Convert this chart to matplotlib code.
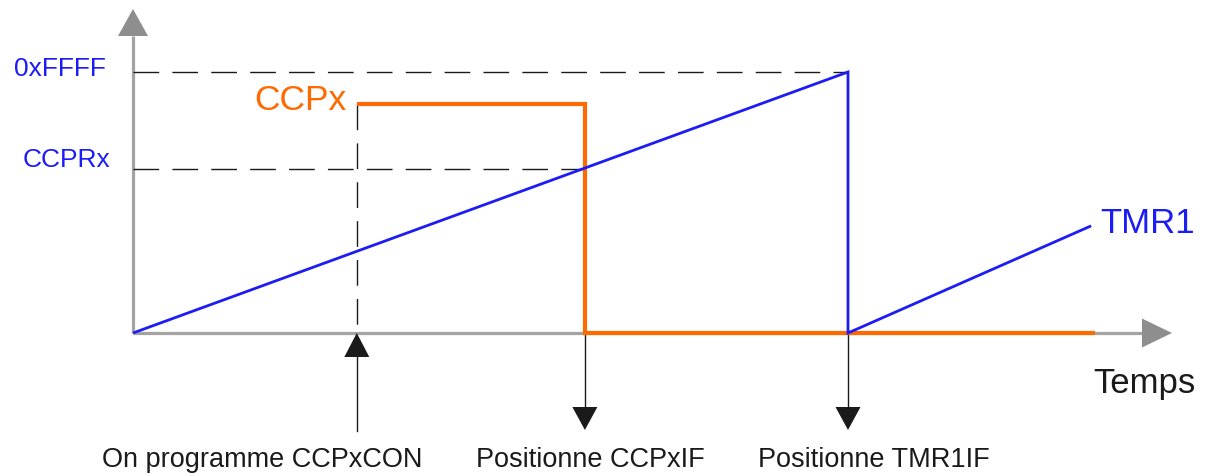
import matplotlib
matplotlib.use("Agg")
import matplotlib.pyplot as plt
from matplotlib.patches import Polygon

# ---------------- data ----------------
TOP = 65535                     # 0xFFFF
CCPRX = 41300                   # compare value
T_CCPXCON = 31.3                # CCPxCON programmed
T_CCPXIF = 63.2                 # match -> CCPxIF
T_TMR1IF = 100.0                # overflow -> TMR1IF
T_END = 134.3
TMR1_t = [0, T_TMR1IF, T_TMR1IF, 134.0]
TMR1_v = [0, TOP, 0, 26900]
CCP_HIGH = 57500
CCPX_t = [T_CCPXCON, T_CCPXIF, T_CCPXIF, 134.5]
CCPX_v = [CCP_HIGH, CCP_HIGH, 0, 0]
Y_LABELS = ["0xFFFF", "CCPRx"]
EVENT_LABELS = ["On programme CCPxCON", "Positionne CCPxIF", "Positionne TMR1IF"]
EVENT_T = [T_CCPXCON, T_CCPXIF, T_TMR1IF]
EVENT_DIR = ["up", "down", "down"]

# ---------------- layout ----------------
W, H, DPI = 1211, 474, 100
OX, OY = 133, 333               # origin in pixels
SX = 7.15                       # px per time unit
SY = 261 / TOP                  # px per value unit
PX_T = 1 / SX                   # time units per px
PX_V = 1 / SY                   # value units per px
X_AXIS_END = (1172 - OX) / SX
Y_AXIS_END = (OY - 9) / SY

BLUE = "#1c1cf5"
ORANGE = "#ff6a00"
GRAY = "#a3a3a3"
GRAYHEAD = "#8e8e8e"
BLACK = "#1a1a1a"
FONT = "Liberation Sans"

fig = plt.figure(figsize=(W / DPI, H / DPI), dpi=DPI)
ax = fig.add_axes([0, 0, 1, 1])
ax.set_xlim(-OX / SX, (W - OX) / SX)
ax.set_ylim(-(H - OY) / SY, OY / SY)
ax.axis("off")

dash = dict(color=BLACK, lw=1.0, dashes=(18.5, 9.5), zorder=2)
# dashed guides
ax.plot([0, T_TMR1IF], [TOP, TOP], **dash)
ax.plot([0, T_CCPXIF], [CCPRX, CCPRX], **dash)
ax.plot([T_CCPXCON, T_CCPXCON], [CCP_HIGH, 0], **dash)

# axes (gray) with arrowheads
ax.plot([0, X_AXIS_END - 30 * PX_T], [0, 0], color=GRAY, lw=2.3, zorder=1,
        solid_capstyle="butt")
ax.plot([0, 0], [0, Y_AXIS_END - 27 * PX_V], color=GRAY, lw=2.3, zorder=1,
        solid_capstyle="butt")
ax.add_patch(Polygon([[X_AXIS_END, 0],
                      [X_AXIS_END - 30 * PX_T, 14.5 * PX_V],
                      [X_AXIS_END - 30 * PX_T, -14.5 * PX_V]],
                     closed=True, color=GRAYHEAD, lw=0, zorder=1))
ax.add_patch(Polygon([[0, Y_AXIS_END],
                      [-15 * PX_T, Y_AXIS_END - 27 * PX_V],
                      [15 * PX_T, Y_AXIS_END - 27 * PX_V]],
                     closed=True, color=GRAYHEAD, lw=0, zorder=1))

# signals
ax.plot(CCPX_t, CCPX_v, color=ORANGE, lw=3.0, zorder=3,
        solid_joinstyle="miter", solid_capstyle="butt")
ax.plot(TMR1_t, TMR1_v, color=BLUE, lw=2.0, zorder=4,
        solid_joinstyle="miter", solid_capstyle="butt")

# event arrows
for t, d in zip(EVENT_T, EVENT_DIR):
    if d == "up":
        tip = 0
        base = -24 * PX_V
        tail = -98 * PX_V
        ax.plot([t, t], [tail, base], color=BLACK, lw=1.0, zorder=2)
    else:
        tip = -97 * PX_V
        base = -74 * PX_V
        ax.plot([t, t], [0, base], color=BLACK, lw=1.0, zorder=2)
    ax.add_patch(Polygon([[t, tip], [t - 12.5 * PX_T, base], [t + 12.5 * PX_T, base]],
                         closed=True, color=BLACK, lw=0, zorder=2))

# text
def label(txt, xy, off_px, color, size, ha):
    ax.annotate(txt, xy=xy, xytext=(off_px[0] * 0.72, -off_px[1] * 0.72),
                textcoords="offset points", ha=ha, va="baseline",
                color=color, fontsize=size, family=FONT)

label(Y_LABELS[0], (0, TOP), (-27, 4), BLUE, 19, "right")
label(Y_LABELS[1], (0, CCPRX), (-23, -2), BLUE, 19, "right")
label("CCPx", (T_CCPXCON, CCP_HIGH), (-10, 6), ORANGE, 25.5, "right")
label("TMR1", (TMR1_t[-1], TMR1_v[-1]), (9, 7), BLUE, 25, "left")
label("Temps", (X_AXIS_END, 0), (-79, 60), BLACK, 25, "left")
for txt, t, dx in zip(EVENT_LABELS, EVENT_T, [-95, 5, 26]):
    label(txt, (t, 0), (dx, 134), BLACK, 19.5, "center")

fig.savefig("out.png", dpi=DPI)
